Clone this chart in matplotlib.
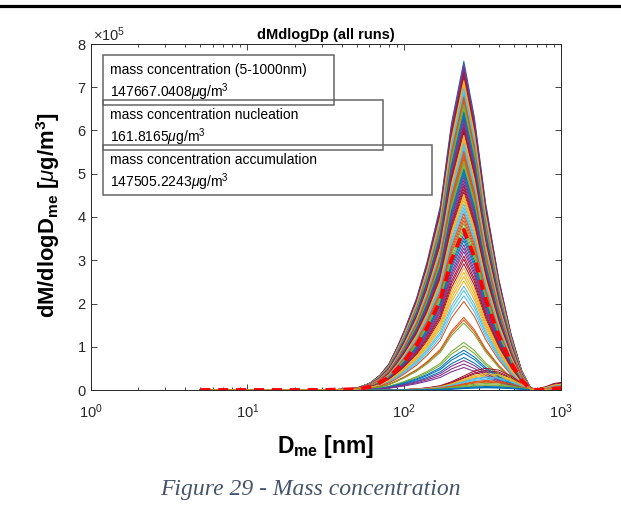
import numpy as np
import matplotlib
matplotlib.use('Agg')
from matplotlib import pyplot as plt
from matplotlib.patches import Rectangle
from matplotlib.lines import Line2D
from matplotlib.ticker import FuncFormatter, LogLocator, NullFormatter

plt.rcParams['font.family'] = ['Liberation Sans', 'DejaVu Sans']
plt.rcParams['mathtext.fontset'] = 'custom'
plt.rcParams['mathtext.rm'] = 'Liberation Sans'
plt.rcParams['mathtext.it'] = 'Liberation Sans:italic'
plt.rcParams['mathtext.bf'] = 'Liberation Sans:bold'

# size grid (nm)
diam_nm = [5, 10, 20, 30, 40, 50, 60, 70, 80, 90, 100, 120, 140, 170, 200,
           240, 280, 330, 400, 480, 560, 640, 700, 800, 900, 1000]
# normalised run profile (accumulation mode, peak ~240 nm)
shape_main = [0, 0, 0, 0, 0.002, 0.006, 0.02, 0.045, 0.08, 0.13, 0.18, 0.28, 0.39, 0.56, 0.81,
              1.0, 0.83, 0.57, 0.34, 0.17, 0.06, 0.005, 0, 0.004, 0.012, 0.015]
# normalised profile of the low runs (peak shifted to ~330 nm)
shape_low = [0, 0, 0, 0, 0, 0, 0, 0.005, 0.01, 0.015, 0.02, 0.05, 0.1, 0.2, 0.38,
             0.65, 0.88, 1.0, 0.92, 0.65, 0.32, 0.1, 0.05, 0.15, 0.3, 0.35]

# peak heights of the runs (x1e5 ug/m3)
peaks_main = [7.60, 7.52, 7.45, 7.40, 7.33, 7.27, 7.20, 7.15, 7.08, 7.02, 6.97, 6.90, 6.85, 6.78,
              6.72, 6.66, 6.60, 6.55, 6.48, 6.42, 6.36, 6.30, 6.25, 6.18, 6.12, 6.06, 6.00, 5.95,
              5.88, 5.82, 5.76, 5.70, 5.64, 5.58, 5.52, 5.46, 5.40, 5.34, 5.28, 5.22, 5.16, 5.10,
              5.04, 4.98, 4.92, 4.85, 4.78, 4.72, 4.65, 4.58, 4.52, 4.45, 4.38, 4.30, 4.22, 4.15,
              4.08, 4.00, 3.92, 3.85, 3.76, 3.68, 3.60, 3.52, 3.45, 3.36, 3.28, 3.20, 3.10, 3.02,
              2.92, 2.82, 2.72, 2.62, 2.52, 2.40, 2.30, 2.18, 2.05, 1.68, 1.62, 1.55, 1.10, 1.02,
              0.92, 0.85, 0.75, 0.68, 0.60, 0.52]
peaks_low = [0.50, 0.45, 0.42, 0.38, 0.35, 0.32, 0.30, 0.28, 0.25, 0.22, 0.20, 0.18, 0.15,
             0.12, 0.10, 0.08, 0.06, 0.05]

# mean of all runs (x1e5 ug/m3)
mean_curve = [0, 0, 0, 0, 0.01, 0.02, 0.07, 0.17, 0.3, 0.48, 0.67, 1.04, 1.44, 2.07, 3.0,
              3.7, 3.07, 2.1, 1.26, 0.63, 0.22, 0.02, 0, 0.01, 0.03, 0.04]

box_texts = [['mass concentration (5-1000nm)', r'147667.0408$\mu$g/m$^3$'],
             ['mass concentration nucleation', r'161.8165$\mu$g/m$^3$'],
             ['mass concentration accumulation', r'147505.2243$\mu$g/m$^3$']]

colors = ['#0072BD', '#D95319', '#EDB120', '#7E2F8E', '#77AC30', '#4DBEEE', '#A2142F']

W, H = 621, 529
fig = plt.figure(figsize=(W / 100, H / 100), dpi=100)
ax = fig.add_axes([90.7 / W, 1 - 390 / H, (561 - 90.7) / W, (390 - 44) / H])

d = np.array(diam_nm)
runs = [(shape_main, p) for p in peaks_main] + [(shape_low, p) for p in peaks_low]
n = len(runs)
order = [(i * 37) % n for i in range(n)]
for k, idx in enumerate(order):
    shp, pk = runs[idx]
    ax.plot(d, np.array(shp) * pk * 1e5, color=colors[k % 7], lw=0.75)

ax.plot(d, np.array(mean_curve) * 1e5, color='#FF0000', lw=2.8, ls=(0, (2.6, 2.0)), zorder=5)

ax.set_xscale('log')
ax.set_xlim(1, 1000)
ax.set_ylim(0, 8e5)
ax.set_yticks(np.arange(0, 9) * 1e5)
ax.yaxis.set_major_formatter(FuncFormatter(lambda v, p: '%g' % (v / 1e5)))
ax.xaxis.set_minor_locator(LogLocator(base=10, subs=np.arange(2, 10)))
ax.xaxis.set_minor_formatter(NullFormatter())
ax.tick_params(which='both', direction='in', top=True, right=True,
               colors='#262626', labelsize=10.5, width=0.6)
ax.tick_params(which='major', length=4)
ax.tick_params(which='minor', length=2.2)
for s in ax.spines.values():
    s.set_color('#262626')
    s.set_linewidth(0.7)
ax.tick_params(axis='x', pad=9)

fig.text(93 / W, 1 - 35 / H, r'$\times10^{5}$', fontsize=10.5, color='#262626', va='center')
fig.text(326 / W, 1 - 35 / H, 'dMdlogDp (all runs)', fontsize=10.5, fontweight='bold',
         ha='center', va='center')
fig.text(48 / W, 1 - 215 / H, r'dM/dlogD$_{\mathbf{me}}$ [$\mu$g/m$^{\mathbf{3}}$]',
         fontsize=15.8, fontweight='bold', rotation=90, ha='center', va='center')
fig.text(326 / W, 1 - 446 / H, r'D$_{\mathbf{me}}$ [nm]', fontsize=16.5, fontweight='bold',
         ha='center', va='center')

# annotation boxes (pixel coordinates)
boxes = [(103, 55, 334, 105), (103, 100, 383, 150), (103, 145, 432, 195)]
for (x0, y0, x1, y1) in boxes:
    fig.add_artist(Rectangle((x0 / W, 1 - y1 / H), (x1 - x0) / W, (y1 - y0) / H,
                             transform=fig.transFigure, facecolor='white', edgecolor='none',
                             zorder=3))
for (x0, y0, x1, y1), (t1, t2) in zip(boxes, box_texts):
    fig.add_artist(Rectangle((x0 / W, 1 - y1 / H), (x1 - x0) / W, (y1 - y0) / H,
                             transform=fig.transFigure, facecolor='none', edgecolor='#666666',
                             lw=1.1, zorder=4))
    fig.text(110 / W, 1 - (y0 + 15) / H, t1, fontsize=10, va='center', zorder=5)
    fig.text(110 / W, 1 - (y0 + 37) / H, t2, fontsize=10, va='center', zorder=5)

fig.add_artist(Line2D([0, 1], [1 - 6.3 / H, 1 - 6.3 / H], transform=fig.transFigure,
                      color='black', lw=2.3))
fig.text(310 / W, 1 - 490 / H, 'Figure 29 - Mass concentration', fontsize=17,
         family='Liberation Serif', style='italic', color='#44546A', ha='center', va='center')

fig.savefig('out.png', dpi=100)
